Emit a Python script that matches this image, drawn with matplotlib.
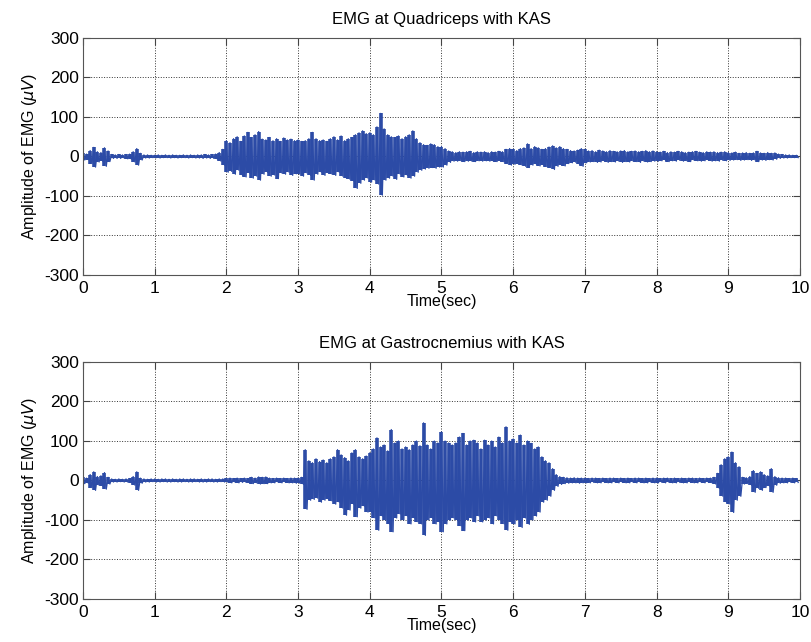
import numpy as np
import matplotlib
matplotlib.use("Agg")
import matplotlib.pyplot as plt

plt.rcParams['font.family'] = ['Liberation Sans', 'DejaVu Sans']
plt.rcParams['axes.unicode_minus'] = False

# sampling step of the envelope (s)
step = 0.05

# Quadriceps: positive and negative peaks, one per 0.05 s (rows = 1 s)
quad_upper = [
    8, 6, 15, 23, 12, 10, 22, 14, 5, 4, 5, 4, 5, 6, 12, 20, 8, 4, 4, 3,
    3, 4, 3, 4, 3, 4, 3, 3, 4, 3, 4, 3, 4, 4, 5, 4, 5, 6, 10, 18,
    40, 35, 45, 50, 38, 52, 61, 48, 55, 63, 44, 42, 48, 40, 45, 38, 47, 42, 44, 40,
    42, 38, 40, 45, 61, 45, 40, 42, 38, 45, 50, 42, 52, 40, 45, 48, 55, 60, 65, 58,
    60, 55, 75, 109, 70, 55, 50, 48, 52, 45, 50, 55, 65, 45, 35, 30, 28, 32, 30, 25,
    25, 20, 14, 12, 10, 12, 11, 12, 13, 10, 12, 11, 12, 10, 12, 11, 13, 12, 18, 20,
    18, 15, 20, 22, 32, 20, 25, 22, 18, 20, 24, 27, 22, 25, 20, 18, 15, 14, 16, 20,
    18, 14, 15, 12, 16, 14, 12, 15, 13, 12, 14, 15, 12, 13, 14, 12, 13, 15, 12, 14,
    12, 11, 13, 10, 12, 11, 13, 12, 10, 11, 12, 13, 11, 10, 12, 11, 12, 10, 11, 12,
    10, 9, 11, 8, 9, 10, 8, 9, 13, 9, 8, 10, 8, 9, 6, 5, 4, 4, 3, 3,
]
quad_lower = [
    -9, -8, -18, -27, -14, -12, -25, -13, -5, -5, -5, -4, -6, -7, -14, -22, -9, -4, -4, -3,
    -3, -4, -3, -3, -4, -3, -4, -3, -3, -4, -3, -4, -4, -5, -4, -5, -5, -7, -12, -22,
    -40, -38, -45, -35, -48, -52, -42, -55, -50, -60, -45, -40, -50, -47, -56, -42, -45, -40, -48, -44,
    -45, -50, -42, -48, -60, -45, -40, -48, -42, -45, -48, -40, -50, -55, -58, -62, -81, -68, -60, -55,
    -65, -60, -70, -98, -60, -55, -50, -58, -45, -52, -48, -55, -50, -40, -35, -32, -30, -28, -30, -27,
    -27, -22, -15, -12, -12, -11, -13, -12, -12, -13, -11, -12, -11, -12, -12, -13, -12, -14, -18, -22,
    -20, -18, -22, -25, -28, -22, -20, -24, -22, -26, -28, -33, -25, -22, -24, -18, -16, -15, -20, -25,
    -16, -14, -13, -15, -14, -12, -15, -13, -14, -12, -15, -13, -14, -12, -13, -15, -12, -14, -13, -12,
    -12, -11, -10, -13, -11, -12, -10, -12, -11, -13, -10, -11, -12, -11, -10, -12, -11, -12, -10, -11,
    -10, -9, -8, -10, -9, -8, -10, -9, -13, -9, -10, -8, -9, -7, -5, -4, -4, -3, -3, -3,
]

# Gastrocnemius
gast_upper = [
    8, 6, 15, 22, 10, 12, 20, 8, 4, 3, 4, 3, 4, 5, 10, 22, 6, 4, 3, 4,
    4, 3, 4, 4, 3, 4, 3, 4, 4, 3, 4, 4, 3, 4, 3, 4, 4, 3, 4, 4,
    5, 6, 5, 6, 5, 6, 5, 8, 6, 9, 8, 9, 6, 5, 6, 5, 6, 5, 6, 6,
    6, 8, 78, 50, 45, 55, 48, 52, 45, 55, 60, 78, 65, 58, 50, 70, 78, 60, 55, 62,
    70, 80, 108, 85, 90, 75, 129, 95, 100, 80, 85, 78, 90, 100, 88, 146, 90, 80, 100, 95,
    123, 100, 95, 90, 95, 110, 119, 90, 100, 102, 95, 80, 102, 90, 100, 85, 110, 95, 136, 100,
    105, 95, 115, 90, 100, 94, 80, 85, 60, 50, 45, 30, 15, 10, 8, 7, 6, 7, 6, 6,
    6, 5, 6, 6, 5, 6, 5, 6, 6, 5, 6, 5, 6, 5, 6, 6, 5, 6, 5, 6,
    6, 5, 6, 6, 5, 6, 5, 6, 5, 6, 6, 5, 6, 5, 6, 6, 8, 18, 40, 55,
    60, 72, 45, 35, 8, 7, 10, 25, 18, 22, 15, 12, 30, 10, 7, 6, 6, 5, 6, 5,
]
gast_lower = [
    -8, -7, -18, -25, -12, -14, -22, -9, -4, -4, -3, -4, -4, -6, -12, -25, -7, -4, -4, -3,
    -4, -4, -3, -4, -4, -3, -4, -4, -3, -4, -4, -3, -4, -4, -4, -3, -4, -4, -3, -4,
    -5, -6, -5, -6, -5, -5, -6, -8, -6, -9, -8, -8, -6, -6, -5, -6, -5, -6, -6, -7,
    -7, -10, -73, -50, -48, -45, -55, -50, -48, -52, -60, -55, -70, -88, -75, -60, -92, -70, -65, -80,
    -80, -95, -126, -90, -100, -110, -130, -95, -85, -100, -90, -110, -95, -105, -110, -139, -100, -95, -110, -105,
    -130, -110, -100, -95, -100, -115, -127, -100, -95, -105, -90, -105, -100, -95, -110, -90, -100, -110, -126, -105,
    -110, -100, -119, -95, -111, -100, -90, -80, -55, -50, -40, -25, -15, -10, -8, -7, -6, -6, -7, -6,
    -6, -6, -5, -6, -6, -5, -6, -6, -5, -6, -5, -6, -6, -5, -6, -5, -6, -6, -5, -6,
    -6, -5, -6, -5, -6, -6, -5, -6, -6, -5, -6, -6, -5, -6, -5, -6, -9, -20, -40, -55,
    -60, -81, -50, -40, -9, -8, -12, -30, -20, -25, -18, -14, -30, -12, -7, -6, -6, -5, -6, -5,
]

titles = ['EMG at Quadriceps with KAS', 'EMG at Gastrocnemius with KAS']
xticks = list(range(0, 11))
yticks = [-300, -200, -100, 0, 100, 200, 300]

line_color = '#2c4ba6'


def zigzag(upper, lower):
    # alternate positive / negative peaks to draw the signal trace
    n = len(upper)
    t = np.empty(2 * n)
    y = np.empty(2 * n)
    t[0::2] = np.arange(n) * step
    t[1::2] = np.arange(n) * step + step / 2
    y[0::2] = upper
    y[1::2] = lower
    return t, y


fig = plt.figure(figsize=(8.12, 6.42), dpi=100)
ax1 = fig.add_axes([0.1022, 0.5717, 0.8830, 0.3692])
ax2 = fig.add_axes([0.1022, 0.0670, 0.8830, 0.3692])

for ax, title, up, lo in [(ax1, titles[0], quad_upper, quad_lower),
                          (ax2, titles[1], gast_upper, gast_lower)]:
    t, y = zigzag(up, lo)
    # dense body of the trace: one stroke per sample from negative to positive peak
    ax.vlines(np.arange(len(up)) * step, lo, up, color=line_color, lw=2.6)
    ax.plot(t, y, color=line_color, lw=0.9)
    ax.set_xlim(0, 10)
    ax.set_ylim(-300, 300)
    ax.set_xticks(xticks)
    ax.set_yticks(yticks)
    ax.grid(True, ls=':', color='#333333', lw=0.7)
    ax.tick_params(direction='in', top=True, right=True, length=5,
                   labelsize=12.5, color='#444444')
    ax.tick_params(axis='x', pad=4)
    ax.tick_params(axis='y', pad=3)
    for s in ax.spines.values():
        s.set_color('#555555')
    ax.set_title(title, fontsize=12, pad=10)
    ax.set_xlabel('Time(sec)', fontsize=11.5, labelpad=-1)
    ax.set_ylabel(r'Amplitude of EMG ($\mu V$)', fontsize=11.5, labelpad=4)

fig.savefig('out.png', dpi=100)
